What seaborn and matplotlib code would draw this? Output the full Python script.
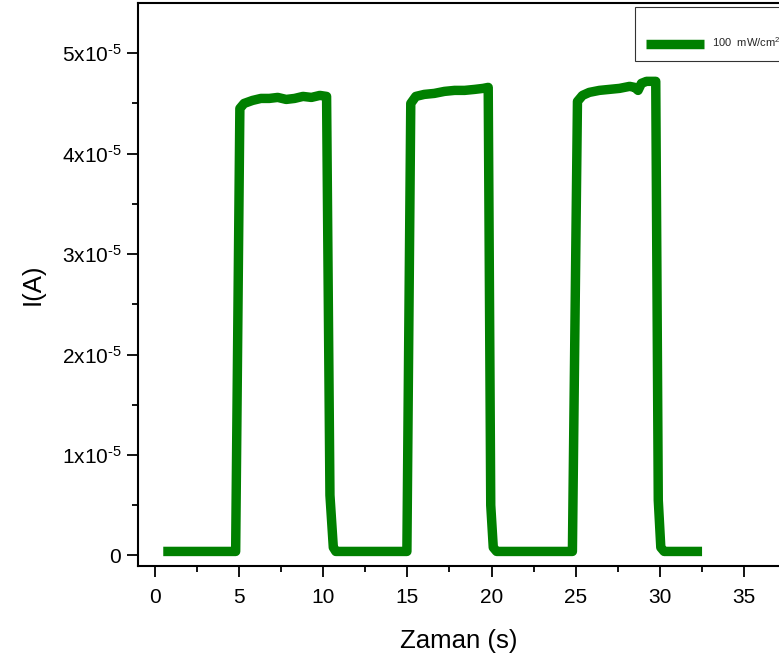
import numpy as np
import pandas as pd
import matplotlib
matplotlib.use("Agg")
import matplotlib.pyplot as plt
import seaborn as sns

# ---- data ----
time_s = [0.5, 2.0, 4.0, 4.8,
          5.05, 5.3, 5.8, 6.3, 6.8, 7.3, 7.8, 8.3, 8.8, 9.3, 9.8, 10.2,
          10.4, 10.6, 10.75, 12.0, 14.0, 14.97,
          15.2, 15.5, 16.0, 16.6, 17.2, 17.8, 18.4, 19.0, 19.5, 19.8,
          19.95, 20.1, 20.3, 22.0, 24.0, 24.8,
          25.1, 25.4, 25.8, 26.4, 27.0, 27.6, 28.2, 28.5, 28.7, 28.9, 29.2, 29.75,
          29.9, 30.05, 30.25, 31.5, 32.5]
current_e5 = [0.04, 0.04, 0.04, 0.04,
              4.45, 4.50, 4.53, 4.55, 4.55, 4.56, 4.54, 4.55, 4.57, 4.56, 4.58, 4.57,
              0.60, 0.08, 0.04, 0.04, 0.04, 0.04,
              4.50, 4.57, 4.59, 4.60, 4.62, 4.63, 4.63, 4.64, 4.65, 4.66,
              0.50, 0.08, 0.04, 0.04, 0.04, 0.04,
              4.52, 4.58, 4.61, 4.63, 4.64, 4.65, 4.67, 4.66, 4.63, 4.70, 4.72, 4.72,
              0.55, 0.08, 0.04, 0.04, 0.04]
HY = "\u2010"
series_label = "100  mW/cm$^{2}$"
x_ticks = [0, 5, 10, 15, 20, 25, 30, 35]
y_ticks = [0, 1e-5, 2e-5, 3e-5, 4e-5, 5e-5]
y_tick_labels = ["0", f"1x10$^{{{HY}5}}$", f"2x10$^{{{HY}5}}$", f"3x10$^{{{HY}5}}$",
                 f"4x10$^{{{HY}5}}$", f"5x10$^{{{HY}5}}$"]

df = pd.DataFrame({"t": time_s, "I": np.array(current_e5) * 1e-5})

sns.set_theme(style="ticks")
plt.rcParams["font.family"] = ["Liberation Sans", "DejaVu Sans"]
plt.rcParams["mathtext.fontset"] = "custom"
plt.rcParams["mathtext.rm"] = "Liberation Sans"
plt.rcParams["mathtext.it"] = "Liberation Sans"
plt.rcParams["mathtext.default"] = "regular"

fig = plt.figure(figsize=(7.79, 6.64), dpi=100)
ax = fig.add_axes([138 / 779, (664 - 566) / 664, 1 - 138 / 779, (566 - 3) / 664])

sns.lineplot(data=df, x="t", y="I", ax=ax, color="#008000", linewidth=6.8,
             estimator=None, sort=False, label=series_label)
for ln in ax.get_lines():
    ln.set_solid_joinstyle("round")
    ln.set_solid_capstyle("butt")

ax.set_xlim(-1.0, 37.07)
ax.set_ylim(-0.105e-5, 5.5e-5)
ax.set_xticks(x_ticks)
ax.set_xticklabels([str(v) for v in x_ticks])
ax.set_xticks(np.arange(2.5, 37, 5), minor=True)
ax.set_yticks(y_ticks)
ax.set_yticklabels(y_tick_labels)
ax.set_yticks(np.arange(0.5e-5, 5.5e-5, 1e-5), minor=True)

ax.tick_params(axis="both", which="major", direction="out", length=8, width=1.3,
               labelsize=15, color="black", labelcolor="black", pad=4)
ax.tick_params(axis="x", which="major", pad=8)
ax.tick_params(axis="both", which="minor", direction="out", length=4.5, width=1.3,
               color="black")

for side in ["left", "bottom", "top"]:
    ax.spines[side].set_linewidth(1.5)
    ax.spines[side].set_color("black")
ax.spines["right"].set_visible(False)

ax.set_xlabel("Zaman (s)", fontsize=18.5, color="black", labelpad=16)
ax.set_ylabel("I(A)", fontsize=18.5, color="black", labelpad=12)

leg = ax.legend(loc="upper left", bbox_to_anchor=(635 / 779, (664 - 7) / 664),
                bbox_transform=fig.transFigure, borderaxespad=0, fontsize=8,
                handlelength=5.2, frameon=True, fancybox=False,
                borderpad=1.0, handletextpad=0.7, title=" ", title_fontsize=9)
leg.get_frame().set_edgecolor("black")
leg.get_frame().set_linewidth(0.8)

fig.savefig("out.png", dpi=100)
